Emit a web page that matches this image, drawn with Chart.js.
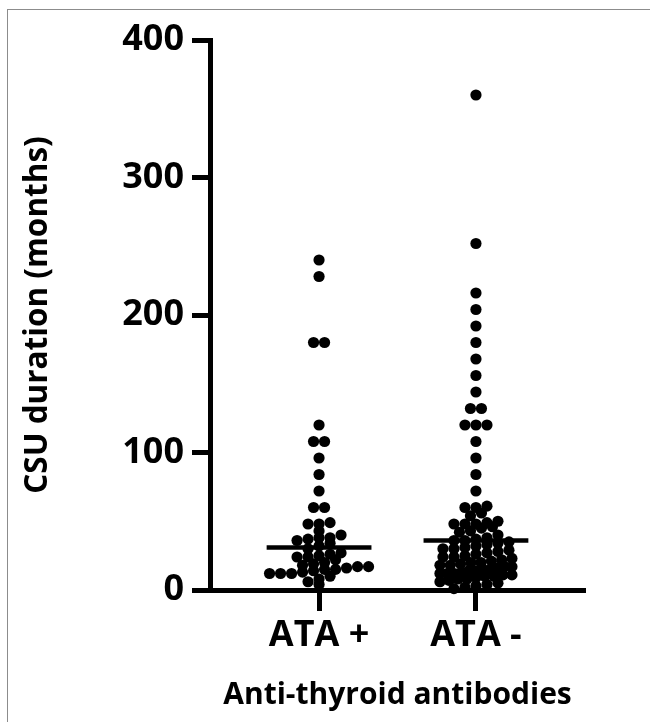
<!DOCTYPE html>
<html><head><meta charset="utf-8">
<script src="https://cdn.jsdelivr.net/npm/chart.js@4"></script>
<style>
html,body{margin:0;padding:0;background:#fff;}
#wrap{position:relative;width:650px;height:722px;overflow:hidden;}
#frame{position:absolute;left:7px;top:9px;width:700px;height:800px;border:1.5px solid #8c8c8c;box-sizing:border-box;}
canvas{position:absolute;left:0;top:0;}
</style></head><body>
<div id="wrap"><div id="frame"></div><canvas id="c" width="650" height="722"></canvas></div>
<script>
const categories = ['ATA +', 'ATA -'];
const ataPos = [240, 228, 180, 180, 120, 108, 108, 96, 84, 72, 60, 60,
  48, 48, 49, 43, 36, 37, 38, 38, 40, 30, 32, 34,
  24, 24, 25, 26, 27, 18, 19, 20, 22,
  12, 12, 12, 13, 14, 15, 15, 16, 17, 17, 6, 8, 10, 4];
const ataNeg = [360, 252, 216, 204, 192, 180, 168, 156, 144, 132, 132, 120, 120, 120,
  108, 96, 84, 72, 60, 60, 61, 54, 56, 48, 48, 48, 49, 50, 42, 43, 45, 46,
  36, 36, 37, 38, 40, 30, 30, 31, 32, 33, 34, 35, 24, 24, 25, 26, 27, 28, 29,
  18, 18, 19, 20, 20, 21, 22, 23, 12, 12, 12, 13, 14, 14, 15, 15, 16, 17, 17,
  6, 7, 8, 8, 9, 10, 10, 11, 11, 1, 2, 3, 4, 5];
const medians = [31, 36];
const yTicks = [0, 100, 200, 300, 400];
const xTitle = 'Anti-thyroid antibodies';
const yTitle = 'CSU duration (months)';

const FONT = '"Open Sans", "Noto Sans", sans-serif';
const DOT_PX = 11, BIN = 6, MEDIAN_HALF = 0.334;
const MAX_HALF_PX = [52, 36];

function swarm(values, gi, pxPerUnit) {
  const center = gi + 1;
  const bins = new Map();
  values.forEach(v => {
    const k = Math.floor(v / BIN);
    if (!bins.has(k)) bins.set(k, []);
    bins.get(k).push(v);
  });
  const pts = [];
  bins.forEach(arr => {
    arr.sort((a, b) => a - b);
    const n = arr.length;
    const sp = n > 1 ? Math.min(DOT_PX, 2 * MAX_HALF_PX[gi] / (n - 1)) : 0;
    arr.forEach((v, i) => pts.push({ x: center + (i - (n - 1) / 2) * sp / pxPerUnit, y: v }));
  });
  return pts;
}
function medianLine(i) {
  return [{ x: i + 1 - MEDIAN_HALF, y: medians[i] }, { x: i + 1 + MEDIAN_HALF, y: medians[i] }];
}

const dotStyle = { pointRadius: 5.6, pointHoverRadius: 5.6, pointBackgroundColor: '#000', pointBorderWidth: 0, showLine: false, clip: false };
const chart = new Chart(document.getElementById('c'), {
  type: 'scatter',
  data: {
    datasets: [
      Object.assign({ label: categories[0], data: swarm(ataPos, 0, 157) }, dotStyle),
      Object.assign({ label: categories[1], data: swarm(ataNeg, 1, 157) }, dotStyle),
      { type: 'line', label: 'median1', data: medianLine(0), borderColor: '#000', borderWidth: 4.5, pointRadius: 0, clip: false },
      { type: 'line', label: 'median2', data: medianLine(1), borderColor: '#000', borderWidth: 4.5, pointRadius: 0, clip: false }
    ]
  },
  options: {
    responsive: false, animation: false, devicePixelRatio: 1,
    layout: { padding: { top: 40, right: 65, bottom: 0, left: 0 } },
    plugins: { legend: { display: false }, tooltip: { enabled: false } },
    scales: {
      x: {
        type: 'linear', min: 0.305, max: 2.695,
        afterBuildTicks: s => { s.ticks = categories.map((c, i) => ({ value: i + 1 })); },
        ticks: { callback: (v, i) => categories[i], color: '#000', font: { family: FONT, size: 36, weight: 'bold' }, padding: 3, maxRotation: 0, autoSkip: false },
        grid: { drawOnChartArea: false, drawTicks: true, tickLength: 21, tickWidth: 5, tickColor: '#000' },
        border: { display: true, color: '#000', width: 5 },
        title: { display: true, text: xTitle, color: '#000', font: { family: FONT, size: 30, weight: 'bold' }, padding: { top: 0, bottom: 9 } },
        afterFit: s => { s.height = 132; }
      },
      y: {
        min: 0, max: 400,
        afterBuildTicks: s => { s.ticks = yTicks.map(v => ({ value: v })); },
        ticks: { color: '#000', font: { family: FONT, size: 36, weight: 'bold' }, padding: 8 },
        grid: { drawOnChartArea: false, drawTicks: true, tickLength: 18, tickWidth: 5, tickColor: '#000' },
        border: { display: true, color: '#000', width: 5 },
        title: { display: true, text: yTitle, color: '#000', font: { family: FONT, size: 31.5, weight: 'bold' }, padding: { top: 19, bottom: 0 } },
        afterFit: s => { s.width = 210; }
      }
    }
  }
});
const xs = chart.scales.x;
const ppu = xs.getPixelForValue(2) - xs.getPixelForValue(1);
chart.data.datasets[0].data = swarm(ataPos, 0, ppu);
chart.data.datasets[1].data = swarm(ataNeg, 1, ppu);
chart.update('none');
</script>
</body></html>
